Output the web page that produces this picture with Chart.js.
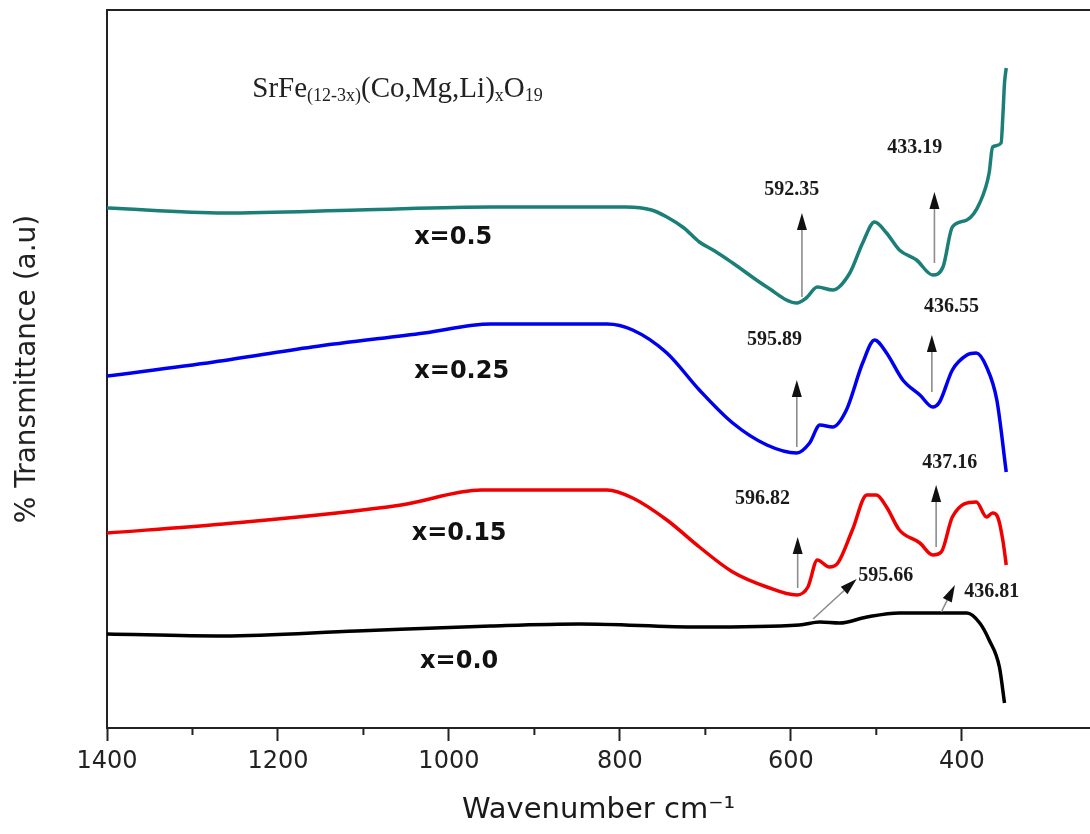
<!DOCTYPE html>
<html>
<head>
<meta charset="utf-8">
<script src="https://cdn.jsdelivr.net/npm/chart.js@4.4.0/dist/chart.umd.min.js"></script>
<style>
  body { margin: 0; background: #fff; }
  #wrap { width: 1090px; height: 834px; position: relative; }
</style>
</head>
<body>
<div id="wrap"><canvas id="ftir"></canvas></div>
<script>
// wavenumber (cm-1) / transmittance (a.u.)
const wave05  = [1400,1263,1106,950,793,763,745,725,707,689,668,628,593,582,569,551,531,516,502,488,473,453,434,422,411,394,379,368,364,354,352,350,348];
const trans05 = [52.0,51.5,51.8,52.1,52.1,51.8,51.1,50.0,48.6,47.7,46.5,44.1,42.5,43.0,44.1,43.8,45.5,48.5,50.6,49.5,47.8,46.8,45.3,46.1,50.1,50.8,52.5,55.5,58.1,58.5,61.1,64.5,66.0];

const wave025  = [1400,1275,1160,1029,951,815,785,745,707,668,628,593,578,566,551,535,516,502,488,469,449,434,426,411,394,383,371,359,348];
const trans025 = [35.2,36.6,38.1,39.5,40.4,40.4,39.8,37.5,33.8,30.5,28.3,27.5,28.5,30.3,30.1,31.8,36.5,38.8,37.5,34.8,33.3,32.1,32.6,35.8,37.3,37.5,36.1,32.8,25.6];

const wave015  = [1400,1264,1056,962,815,785,745,707,668,628,593,580,569,555,545,528,511,500,488,473,449,434,424,411,383,371,364,358,352,348];
const trans015 = [19.5,20.4,22.3,23.8,23.8,23.0,20.8,18.1,15.6,14.1,13.3,14.1,16.8,16.1,16.5,19.8,23.3,23.3,22.1,19.8,18.5,17.3,17.6,21.1,22.6,21.1,21.5,21.1,18.8,16.3];

const wave00  = [1400,1264,1108,951,847,707,590,566,543,511,473,406,394,379,368,356,350];
const trans00 = [9.4,9.2,9.7,10.2,10.4,10.1,10.3,10.6,10.5,11.1,11.5,11.5,11.5,10.5,8.8,6.1,2.5];

const seriesNames  = ['x=0.5', 'x=0.25', 'x=0.15', 'x=0.0'];
const seriesColors = ['#1b7f78', '#0000f0', '#f00000', '#000000'];
const nameW = [995, 985, 988, 988];
const nameT = [49.0, 35.6, 19.4, 6.6];

// peak arrows: base -> tip
const arrowBaseW = [587, 432, 593, 435, 592, 430, 574, 424];
const arrowBaseT = [43.1, 46.5, 28.1, 33.6, 14.0, 18.1, 10.9, 11.6];
const arrowTipW  = [587, 432, 593, 435, 592, 430, 523, 408];
const arrowTipT  = [51.5, 53.6, 34.8, 39.3, 19.1, 24.3, 14.9, 14.3];

const peakText = ['592.35', '433.19', '436.55', '595.89', '596.82', '437.16', '595.66', '436.81'];
const peakW = [599, 455, 412, 619, 633, 414, 489, 365];
const peakT = [53.8, 58.0, 42.1, 38.8, 22.9, 26.5, 15.2, 13.6];

const formulaParts = [['SrFe', false], ['(12-3x)', true], ['(Co,Mg,Li)', false], ['x', true], ['O', false], ['19', true]];
const formulaW = 1230, formulaT = 63.1;

const waves = [wave05, wave025, wave015, wave00];
const trans = [trans05, trans025, trans015, trans00];

const datasets = seriesNames.map((name, i) => ({
  label: name,
  data: waves[i].map((w, k) => ({x: w, y: trans[i][k]})),
  borderColor: seriesColors[i],
  borderWidth: 3.5,
  pointRadius: 0,
  fill: false,
  cubicInterpolationMode: 'monotone'
}));

const notesPlugin = {
  id: 'notes',
  afterDraw(chart) {
    const {ctx, chartArea} = chart;
    const xs = chart.scales.x, ys = chart.scales.y;
    ctx.save();

    // minor ticks
    ctx.strokeStyle = '#222';
    ctx.lineWidth = 2;
    xs.ticks.forEach(t => {
      if (t.value % 200 !== 0) {
        const px = xs.getPixelForValue(t.value);
        ctx.beginPath();
        ctx.moveTo(px, chartArea.bottom);
        ctx.lineTo(px, chartArea.bottom + 7);
        ctx.stroke();
      }
    });

    // arrows
    for (let i = 0; i < arrowBaseW.length; i++) {
      const x0 = xs.getPixelForValue(arrowBaseW[i]), y0 = ys.getPixelForValue(arrowBaseT[i]);
      const x1 = xs.getPixelForValue(arrowTipW[i]), y1 = ys.getPixelForValue(arrowTipT[i]);
      const a = Math.atan2(y1 - y0, x1 - x0);
      const hl = 17, hw = 5;
      const hx = x1 - hl * Math.cos(a), hy = y1 - hl * Math.sin(a);
      ctx.strokeStyle = '#8c8c8c';
      ctx.lineWidth = 1.6;
      ctx.beginPath();
      ctx.moveTo(x0, y0);
      ctx.lineTo(hx, hy);
      ctx.stroke();
      ctx.fillStyle = '#111';
      ctx.beginPath();
      ctx.moveTo(x1, y1);
      ctx.lineTo(hx + hw * Math.sin(a), hy - hw * Math.cos(a));
      ctx.lineTo(hx - hw * Math.sin(a), hy + hw * Math.cos(a));
      ctx.closePath();
      ctx.fill();
    }

    // peak values
    ctx.fillStyle = '#1a1a1a';
    ctx.font = 'bold 20px "Liberation Serif", "Times New Roman", serif';
    ctx.textAlign = 'center';
    ctx.textBaseline = 'middle';
    peakText.forEach((t, i) => {
      ctx.fillText(t, xs.getPixelForValue(peakW[i]), ys.getPixelForValue(peakT[i]));
    });

    // sample labels
    ctx.fillStyle = '#111';
    ctx.font = 'bold 24px "DejaVu Sans", sans-serif';
    seriesNames.forEach((n, i) => {
      ctx.fillText(n, xs.getPixelForValue(nameW[i]), ys.getPixelForValue(nameT[i]));
    });

    // formula
    ctx.textAlign = 'left';
    ctx.textBaseline = 'alphabetic';
    ctx.fillStyle = '#222';
    let cx = xs.getPixelForValue(formulaW);
    const base = ys.getPixelForValue(formulaT);
    formulaParts.forEach(([txt, sub]) => {
      ctx.font = (sub ? '18px' : '29px') + ' "Liberation Serif", "Times New Roman", serif';
      ctx.fillText(txt, cx, sub ? base + 4 : base);
      cx += ctx.measureText(txt).width;
    });

    ctx.restore();
  }
};

new Chart(document.getElementById('ftir'), {
  type: 'line',
  data: {datasets: datasets},
  plugins: [notesPlugin],
  options: {
    responsive: true,
    maintainAspectRatio: false,
    animation: false,
    layout: {padding: {top: 10, left: 0, right: 0, bottom: 0}},
    plugins: {legend: {display: false}, tooltip: {enabled: false}},
    scales: {
      x: {
        type: 'linear',
        reverse: true,
        min: 250,
        max: 1400,
        afterBuildTicks: s => { s.ticks = s.ticks.filter(t => t.value % 100 === 0); },
        afterFit: s => { s.height = 106; },
        ticks: {
          stepSize: 100,
          padding: 6,
          color: '#222',
          font: {family: 'DejaVu Sans', size: 24},
          callback: v => (v % 200 === 0 ? v : '')
        },
        grid: {
          drawOnChartArea: false,
          drawTicks: true,
          tickLength: 13,
          tickWidth: 2,
          tickColor: c => (c.tick && c.tick.value % 200 === 0 ? '#222' : 'rgba(0,0,0,0)')
        },
        border: {display: true, color: '#222', width: 2},
        title: {
          display: true,
          text: 'Wavenumber cm⁻¹',
          color: '#1a1a1a',
          font: {family: 'DejaVu Sans', size: 29},
          padding: {top: 0, bottom: 6}
        }
      },
      x2: {
        type: 'linear',
        position: 'top',
        afterFit: s => { s.height = 0; },
        ticks: {display: false},
        grid: {display: false},
        border: {display: true, color: '#222', width: 2}
      },
      y: {
        min: 0,
        max: 71.8,
        afterFit: s => { s.width = 107; },
        ticks: {display: false},
        grid: {display: false},
        border: {display: true, color: '#222', width: 2},
        title: {
          display: true,
          text: '% Transmittance (a.u)',
          color: '#222',
          font: {family: 'DejaVu Sans', size: 28},
          padding: {top: 11, bottom: 0}
        }
      }
    }
  }
});
</script>
</body>
</html>
